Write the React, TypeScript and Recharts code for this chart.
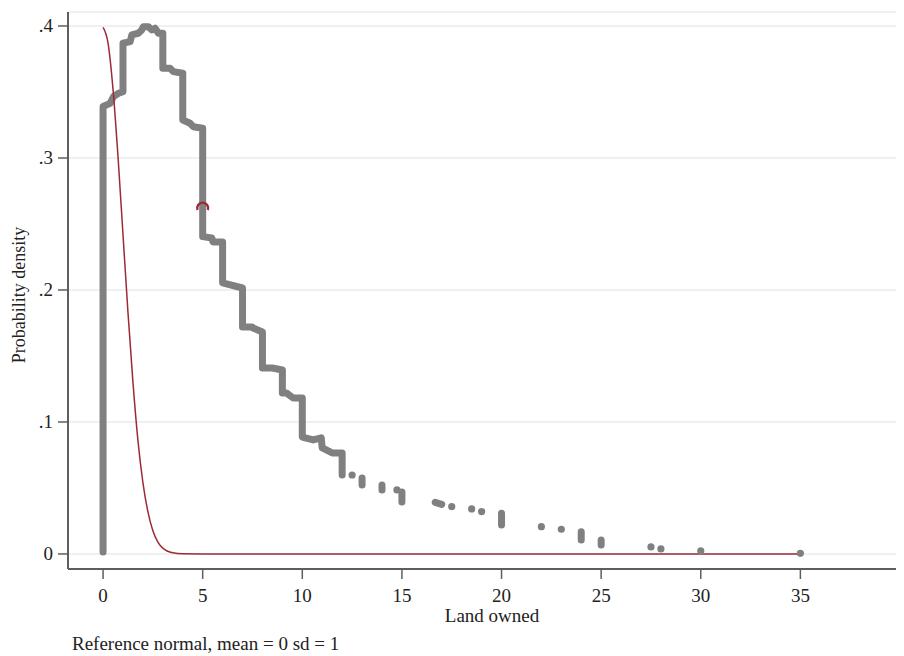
import React from "react";
import { ComposedChart, Line, XAxis, YAxis, CartesianGrid } from "recharts";

// main step-shaped run of density points
const mainX = [0, 0, 0.35, 0.52, 0.77, 1, 1, 1.36, 1.44, 1.77, 1.94, 2.02, 2.27, 2.45, 2.61, 2.78, 3, 3, 3.36, 3.53, 4, 4, 4.37, 4.53, 5, 5, 5.46, 5.52, 6, 6, 7, 7, 7.48, 7.53, 8, 8, 8.49, 9, 9, 9.2, 9.54, 10, 10, 10.55, 10.95, 11, 11.5, 12, 12];
const mainY = [0.0015, 0.339, 0.3414, 0.3464, 0.349, 0.3502, 0.3869, 0.3881, 0.3932, 0.3945, 0.397, 0.3995, 0.3995, 0.397, 0.3983, 0.3945, 0.3945, 0.368, 0.368, 0.3654, 0.3642, 0.3288, 0.3263, 0.3237, 0.3225, 0.2404, 0.2394, 0.2364, 0.2364, 0.2053, 0.2015, 0.172, 0.172, 0.1712, 0.1682, 0.1409, 0.1409, 0.1394, 0.122, 0.122, 0.1182, 0.1182, 0.0886, 0.0864, 0.0879, 0.0803, 0.0765, 0.0765, 0.0598];

// short vertical runs in the tail: [x, yTop, x, yBottom]
const tailRuns = [
  [13, 0.0576, 13, 0.0523],
  [14, 0.0523, 14, 0.0485],
  [15, 0.047, 15, 0.0394],
  [16.67, 0.0391, 17, 0.0376],
  [20, 0.0308, 20, 0.022],
  [24, 0.0169, 24, 0.0106],
  [25, 0.0106, 25, 0.0068],
];

// isolated points
const dotX = [12.5, 14.75, 17.5, 18.5, 19, 22, 23, 27.5, 28, 30, 35];
const dotY = [0.0598, 0.0485, 0.0358, 0.0341, 0.0321, 0.0207, 0.0187, 0.0053, 0.0038, 0.0023, 0.0005];

// reference normal curve, mean 0 sd 1
const normX = [0, 0.25, 0.5, 0.75, 1, 1.25, 1.5, 1.75, 2, 2.25, 2.5, 2.75, 3, 3.5, 4, 5, 35];
const normY = [0.399, 0.387, 0.352, 0.301, 0.242, 0.183, 0.13, 0.086, 0.054, 0.032, 0.0175, 0.009, 0.0044, 0.0009, 0.0001, 0, 0];

const markX = [5];
const markY = [0.262];

const xTicks = [0, 5, 10, 15, 20, 25, 30, 35];
const yTicks = [0, 0.1, 0.2, 0.3, 0.4];

const GREY = "#808080";
const RED = "#9e2a36";
const AXIS = "#5e5e5e";
const FONT = '"Liberation Serif", "Times New Roman", serif';

const greyData: { x: number; y: number | null }[] = [];
mainX.forEach((x, i) => greyData.push({ x, y: mainY[i] }));
tailRuns.forEach((r) => {
  greyData.push({ x: r[0], y: null });
  greyData.push({ x: r[0], y: r[1] });
  greyData.push({ x: r[2], y: r[3] });
});
const dotData = dotX.map((x, i) => ({ x, y: dotY[i] }));
const normData = normX.map((x, i) => ({ x, y: normY[i] }));
const markData = markX.map((x, i) => ({ x, y: markY[i] }));

const fmtY = (v: number) => (v === 0 ? "0" : String(v).replace(/^0/, ""));

const XTick = (props: any) => {
  const { x, y, payload } = props;
  return (
    <text x={x} y={y} dy={21} textAnchor="middle" fontSize={19} fontFamily={FONT} fill="#222">
      {payload.value}
    </text>
  );
};

const YTick = (props: any) => {
  const { x, y, payload } = props;
  return (
    <text x={x} y={y} dx={-3} dy={6.5} textAnchor="end" fontSize={19} fontFamily={FONT} fill="#222">
      {fmtY(payload.value)}
    </text>
  );
};

// hollow marker; the grey run hides its lower half, so only the upper arc shows
const MarkDot = (p: any) => {
  const r = 5.5;
  const a = (20 * Math.PI) / 180;
  const x1 = p.cx - r * Math.cos(a);
  const y1 = p.cy + r * Math.sin(a);
  const x2 = p.cx + r * Math.cos(a);
  return (
    <path
      key="mark"
      d={`M${x1},${y1} A${r},${r} 0 1 1 ${x2},${y1}`}
      fill="none"
      stroke={RED}
      strokeWidth={2.4}
    />
  );
};

const textStyle: React.CSSProperties = {
  position: "absolute",
  fontFamily: FONT,
  fontSize: 19,
  lineHeight: "14px",
  color: "#222",
  whiteSpace: "nowrap",
};

export default function App() {
  return (
    <div style={{ position: "relative", width: 896, height: 648, background: "#fff" }}>
      <ComposedChart width={896} height={648} margin={{ top: 4, right: 4, bottom: 0, left: 0 }}>
        <CartesianGrid vertical={false} stroke="#ebebeb" strokeWidth={1.5} />
        <XAxis
          type="number"
          dataKey="x"
          domain={[-1.76, 40]}
          ticks={xTicks}
          allowDataOverflow
          height={87}
          tickSize={10}
          axisLine={{ stroke: AXIS, strokeWidth: 2 }}
          tickLine={{ stroke: AXIS, strokeWidth: 1.5 }}
          tick={<XTick />}
        />
        <YAxis
          type="number"
          dataKey="y"
          domain={[-0.0114, 0.4106]}
          ticks={yTicks}
          allowDataOverflow
          width={60}
          tickSize={10}
          axisLine={{ stroke: AXIS, strokeWidth: 2 }}
          tickLine={{ stroke: AXIS, strokeWidth: 1.5 }}
          tick={<YTick />}
        />
        <Line
          data={greyData}
          dataKey="y"
          type="linear"
          stroke={GREY}
          strokeWidth={7}
          strokeLinecap="round"
          strokeLinejoin="round"
          dot={false}
          isAnimationActive={false}
        />
        <Line
          data={dotData}
          dataKey="y"
          stroke="none"
          isAnimationActive={false}
          dot={(p: any) => <circle key={`d${p.index}`} cx={p.cx} cy={p.cy} r={3.6} fill={GREY} />}
        />
        <Line
          data={markData}
          dataKey="y"
          stroke="none"
          isAnimationActive={false}
          dot={MarkDot}
        />
        <Line
          data={normData}
          dataKey="y"
          type="monotone"
          stroke={RED}
          strokeWidth={1.5}
          dot={false}
          isAnimationActive={false}
        />
      </ComposedChart>
      <div style={{ ...textStyle, left: 484, top: 601, transform: "translateX(-50%)" }}>Land owned</div>
      <div style={{ ...textStyle, left: 64, top: 629 }}>Reference normal, mean = 0 sd = 1</div>
      <div
        style={{
          ...textStyle,
          fontSize: 18,
          left: 11,
          top: 287,
          transform: "translate(-50%, -50%) rotate(-90deg)",
        }}
      >
        Probability density
      </div>
    </div>
  );
}
